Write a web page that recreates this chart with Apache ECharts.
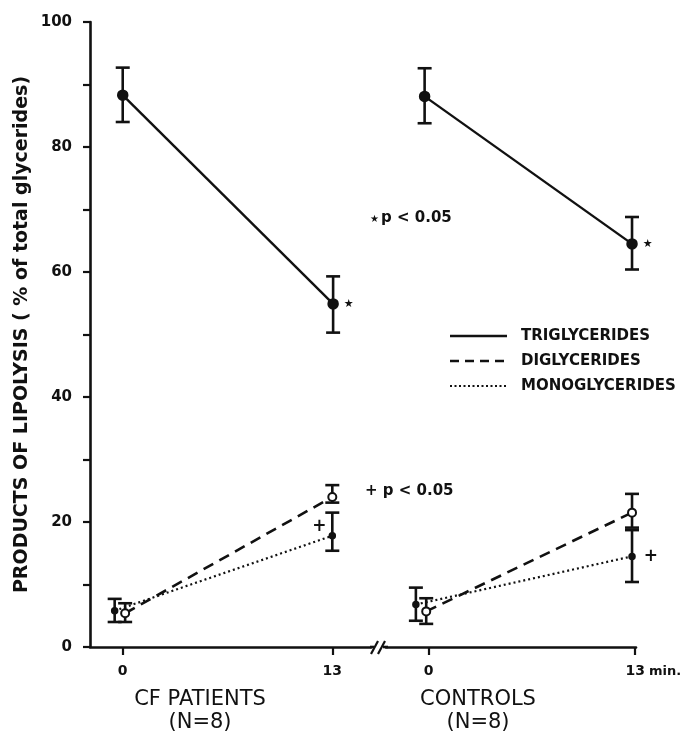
<!DOCTYPE html>
<html>
<head>
<meta charset="utf-8">
<script src="https://cdn.jsdelivr.net/npm/echarts@6.0.0/dist/echarts.min.js"></script>
<style>html,body{margin:0;padding:0;background:#fff;}#c{width:694px;height:737px;}</style>
</head>
<body>
<div id="c"></div>
<script>
// ---- data (minutes, % of total glycerides) ----
const timeTicks = [0, 13];
const seriesNames = ['TRIGLYCERIDES', 'DIGLYCERIDES', 'MONOGLYCERIDES'];
const groupNames = ['CF PATIENTS', 'CONTROLS'];
const groupN = ['(N=8)', '(N=8)'];

// CF patients
const cfTriX = [0, 13.05];
const cfTriMean = [88.3, 54.9];
const cfTriLow = [84.0, 50.3];
const cfTriHigh = [92.7, 59.3];
const cfDiX = [0.15, 13.0];
const cfDiMean = [5.4, 24.0];
const cfDiLow = [4.0, 23.1];
const cfDiHigh = [7.0, 25.9];
const cfMonoX = [-0.5, 13.0];
const cfMonoMean = [5.8, 17.8];
const cfMonoLow = [4.0, 15.4];
const cfMonoHigh = [7.7, 21.5];

// Controls
const ctlTriX = [-0.25, 12.8];
const ctlTriMean = [88.1, 64.5];
const ctlTriLow = [83.8, 60.4];
const ctlTriHigh = [92.6, 68.8];
const ctlDiX = [-0.15, 12.8];
const ctlDiMean = [5.7, 21.5];
const ctlDiLow = [3.7, 19.1];
const ctlDiHigh = [7.8, 24.5];
const ctlMonoX = [-0.8, 12.8];
const ctlMonoMean = [6.8, 14.5];
const ctlMonoLow = [4.2, 10.4];
const ctlMonoHigh = [9.5, 18.7];

const yTicks = [0, 20, 40, 60, 80, 100];

// ---- helpers ----
const FONT = 'DejaVu Sans';
const BLACK = '#111';
function pts(xs, ys) { return xs.map((x, i) => [x, ys[i]]); }
function errs(xs, lo, hi) { return xs.map((x, i) => [x, lo[i], hi[i]]); }

function errRender(params, api) {
  const x = api.value(0), lo = api.value(1), hi = api.value(2);
  const a = api.coord([x, lo]), b = api.coord([x, hi]);
  const w = 7;
  const st = { stroke: BLACK, lineWidth: 2.6 };
  return {
    type: 'group',
    children: [
      { type: 'line', shape: { x1: a[0], y1: a[1], x2: b[0], y2: b[1] }, style: st },
      { type: 'line', shape: { x1: a[0] - w, y1: a[1], x2: a[0] + w, y2: a[1] }, style: st },
      { type: 'line', shape: { x1: b[0] - w, y1: b[1], x2: b[0] + w, y2: b[1] }, style: st }
    ]
  };
}

function errSeries(idx, data) {
  return {
    type: 'custom', xAxisIndex: idx, yAxisIndex: idx,
    renderItem: errRender, data: data, z: 2, silent: true,
    encode: { x: 0, y: [1, 2] }
  };
}

function lineSeries(idx, name, data, kind, labels) {
  const s = {
    type: 'line', name: name, xAxisIndex: idx, yAxisIndex: idx,
    data: data, z: 3, silent: true, animation: false,
    lineStyle: { color: BLACK, width: 2.4 },
    itemStyle: { color: BLACK, borderColor: BLACK, borderWidth: 1.5 },
    symbol: 'circle'
  };
  if (kind === 'tri') { s.symbolSize = 10; }
  if (kind === 'di') {
    s.symbolSize = 8; s.z = 4;
    s.lineStyle = { color: BLACK, width: 2.6, type: [11, 7] };
    s.itemStyle = { color: '#fff', borderColor: BLACK, borderWidth: 2 };
  }
  if (kind === 'mono') {
    s.symbolSize = 6;
    s.lineStyle = { color: BLACK, width: 2.2, type: [2, 3] };
  }
  if (labels) {
    s.data = data.map((d, i) => labels[i] ? { value: d, label: labels[i] } : d);
  }
  return s;
}

const starLabel = { show: true, position: 'right', distance: 5, formatter: '★', fontSize: 11, color: BLACK, fontFamily: FONT };
const plusLeftLabel = { show: true, position: 'left', distance: 2, offset: [0, -9], formatter: '+', fontSize: 17, fontWeight: 'bold', color: BLACK, fontFamily: FONT };
const plusRightLabel = { show: true, position: 'right', distance: 8, formatter: '+', fontSize: 17, fontWeight: 'bold', color: BLACK, fontFamily: FONT };

const chart = echarts.init(document.getElementById('c'), null, { renderer: 'canvas' });

const axisLineStyle = { color: BLACK, width: 2.6 };

function xAxisCfg(idx, min, max, fmt) {
  return {
    type: 'value', gridIndex: idx, min: min, max: max,
    axisLine: { show: true, onZero: false, lineStyle: axisLineStyle },
    axisTick: { show: true, length: 8, lineStyle: { color: BLACK, width: 2.2 }, customValues: timeTicks },
    axisLabel: { show: true, customValues: timeTicks, formatter: fmt, margin: 17, fontSize: 14, fontWeight: 'bold', color: BLACK, fontFamily: FONT },
    splitLine: { show: false }
  };
}

const option = {
  backgroundColor: '#fff',
  animation: false,
  grid: [
    { left: 90, top: 22, width: 281, height: 625 },
    { left: 386, top: 22, width: 250, height: 625 }
  ],
  xAxis: [
    xAxisCfg(0, -2.03, 15.4, v => String(v)),
    xAxisCfg(1, -2.68, 13.05, v => String(v))
  ],
  yAxis: [
    {
      type: 'value', gridIndex: 0, min: 0, max: 100, interval: 10,
      name: 'PRODUCTS OF LIPOLYSIS ( % of total glycerides)',
      nameLocation: 'middle', nameRotate: 90, nameGap: 58,
      nameTextStyle: { fontSize: 19, fontWeight: 'bold', color: BLACK, fontFamily: FONT },
      axisLine: { show: true, onZero: false, lineStyle: axisLineStyle },
      axisTick: { show: true, length: 7, lineStyle: { color: BLACK, width: 2.2 } },
      axisLabel: { formatter: v => (yTicks.indexOf(v) >= 0 ? String(v) : ''), margin: 18, fontSize: 15, fontWeight: 'bold', color: BLACK, fontFamily: FONT },
      splitLine: { show: false }
    },
    {
      type: 'value', gridIndex: 1, min: 0, max: 100, interval: 10,
      axisLine: { show: false, onZero: false }, axisTick: { show: false }, axisLabel: { show: false }, splitLine: { show: false }
    }
  ],
  series: [
    errSeries(0, errs(cfTriX, cfTriLow, cfTriHigh)),
    errSeries(0, errs(cfDiX, cfDiLow, cfDiHigh)),
    errSeries(0, errs(cfMonoX, cfMonoLow, cfMonoHigh)),
    lineSeries(0, seriesNames[0], pts(cfTriX, cfTriMean), 'tri', [null, starLabel]),
    lineSeries(0, seriesNames[2], pts(cfMonoX, cfMonoMean), 'mono', [null, plusLeftLabel]),
    lineSeries(0, seriesNames[1], pts(cfDiX, cfDiMean), 'di'),
    errSeries(1, errs(ctlTriX, ctlTriLow, ctlTriHigh)),
    errSeries(1, errs(ctlDiX, ctlDiLow, ctlDiHigh)),
    errSeries(1, errs(ctlMonoX, ctlMonoLow, ctlMonoHigh)),
    lineSeries(1, seriesNames[0], pts(ctlTriX, ctlTriMean), 'tri', [null, starLabel]),
    lineSeries(1, seriesNames[2], pts(ctlMonoX, ctlMonoMean), 'mono', [null, plusRightLabel]),
    lineSeries(1, seriesNames[1], pts(ctlDiX, ctlDiMean), 'di')
  ],
  graphic: [
    // axis break
    { type: 'line', shape: { x1: 370, y1: 647, x2: 374, y2: 647 }, style: { stroke: BLACK, lineWidth: 2.6 } },
    { type: 'line', shape: { x1: 371, y1: 654, x2: 378, y2: 641 }, style: { stroke: BLACK, lineWidth: 2.2 } },
    { type: 'line', shape: { x1: 378, y1: 654, x2: 385, y2: 641 }, style: { stroke: BLACK, lineWidth: 2.2 } },
    { type: 'line', shape: { x1: 383, y1: 647, x2: 388, y2: 647 }, style: { stroke: BLACK, lineWidth: 2.6 } },
    // "min."
    { type: 'text', x: 649, y: 672, style: { text: 'min.', font: 'bold 13px "DejaVu Sans"', fill: BLACK, verticalAlign: 'middle' } },
    // group titles
    { type: 'text', x: 200, y: 700, style: { text: groupNames[0], font: '21px "DejaVu Sans"', fill: BLACK, align: 'center', verticalAlign: 'middle' } },
    { type: 'text', x: 200, y: 723, style: { text: groupN[0], font: '21px "DejaVu Sans"', fill: BLACK, align: 'center', verticalAlign: 'middle' } },
    { type: 'text', x: 478, y: 700, style: { text: groupNames[1], font: '21px "DejaVu Sans"', fill: BLACK, align: 'center', verticalAlign: 'middle' } },
    { type: 'text', x: 478, y: 723, style: { text: groupN[1], font: '21px "DejaVu Sans"', fill: BLACK, align: 'center', verticalAlign: 'middle' } },
    // significance notes
    { type: 'text', x: 370, y: 219, style: { text: '★', font: '10px "DejaVu Sans"', fill: BLACK, verticalAlign: 'middle' } },
    { type: 'text', x: 381, y: 218, style: { text: 'p < 0.05', font: 'bold 15px "DejaVu Sans"', fill: BLACK, verticalAlign: 'middle' } },
    { type: 'text', x: 365, y: 491, style: { text: '+ p < 0.05', font: 'bold 15px "DejaVu Sans"', fill: BLACK, verticalAlign: 'middle' } },
    // legend
    { type: 'line', shape: { x1: 450, y1: 336, x2: 507, y2: 336 }, style: { stroke: BLACK, lineWidth: 2.6 } },
    { type: 'line', shape: { x1: 450, y1: 361, x2: 507, y2: 361 }, style: { stroke: BLACK, lineWidth: 2.6, lineDash: [9, 6] } },
    { type: 'line', shape: { x1: 450, y1: 386, x2: 507, y2: 386 }, style: { stroke: BLACK, lineWidth: 2, lineDash: [2, 2.5] } },
    { type: 'text', x: 521, y: 336, style: { text: seriesNames[0], font: 'bold 15px "DejaVu Sans"', fill: BLACK, verticalAlign: 'middle' } },
    { type: 'text', x: 521, y: 361, style: { text: seriesNames[1], font: 'bold 15px "DejaVu Sans"', fill: BLACK, verticalAlign: 'middle' } },
    { type: 'text', x: 521, y: 386, style: { text: seriesNames[2], font: 'bold 15px "DejaVu Sans"', fill: BLACK, verticalAlign: 'middle' } }
  ]
};
chart.setOption(option);
</script>
</body>
</html>
